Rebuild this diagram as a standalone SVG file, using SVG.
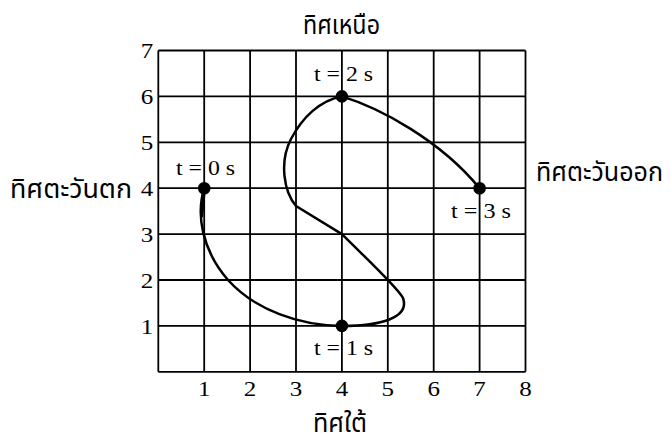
<svg xmlns="http://www.w3.org/2000/svg" width="671" height="437" viewBox="0 0 671 437">
<style>
.grid line{stroke:#000;stroke-width:1.8}
.num{font-family:'Liberation Serif','Times New Roman',Times,serif;font-size:21.5px;fill:#000;text-anchor:middle}
.tl{font-family:'Liberation Serif','Times New Roman',Times,serif;font-size:21px;fill:#000}
.th{font-family:'Liberation Serif','Noto Sans Thai',serif;font-size:27px;fill:#000}
.dot{fill:#000}
.curve{fill:none;stroke:#000;stroke-width:2.5;stroke-linejoin:round}
</style>
<rect width="671" height="437" fill="#fff"/>
<g id="grid" class="grid">
<line x1="158.3" y1="50.5" x2="158.3" y2="371.8"/>
<line x1="204.2" y1="50.5" x2="204.2" y2="371.8"/>
<line x1="250.1" y1="50.5" x2="250.1" y2="371.8"/>
<line x1="296" y1="50.5" x2="296" y2="371.8"/>
<line x1="341.9" y1="50.5" x2="341.9" y2="371.8"/>
<line x1="387.8" y1="50.5" x2="387.8" y2="371.8"/>
<line x1="433.7" y1="50.5" x2="433.7" y2="371.8"/>
<line x1="479.6" y1="50.5" x2="479.6" y2="371.8"/>
<line x1="525.5" y1="50.5" x2="525.5" y2="371.8"/>
<line x1="158.3" y1="371.8" x2="525.5" y2="371.8"/>
<line x1="158.3" y1="325.9" x2="525.5" y2="325.9"/>
<line x1="158.3" y1="280" x2="525.5" y2="280"/>
<line x1="158.3" y1="234.1" x2="525.5" y2="234.1"/>
<line x1="158.3" y1="188.2" x2="525.5" y2="188.2"/>
<line x1="158.3" y1="142.3" x2="525.5" y2="142.3"/>
<line x1="158.3" y1="96.4" x2="525.5" y2="96.4"/>
<line x1="158.3" y1="50.5" x2="525.5" y2="50.5"/>
</g>
<g id="axis-labels">
<text class="num" x="147" y="57.5" textLength="12.5" lengthAdjust="spacingAndGlyphs">7</text>
<text class="num" x="147" y="103.5" textLength="12.5" lengthAdjust="spacingAndGlyphs">6</text>
<text class="num" x="147" y="149.5" textLength="12.5" lengthAdjust="spacingAndGlyphs">5</text>
<text class="num" x="147" y="195.5" textLength="12.5" lengthAdjust="spacingAndGlyphs">4</text>
<text class="num" x="147" y="241.5" textLength="12.5" lengthAdjust="spacingAndGlyphs">3</text>
<text class="num" x="147" y="287.5" textLength="12.5" lengthAdjust="spacingAndGlyphs">2</text>
<text class="num" x="147" y="333.5" textLength="12.5" lengthAdjust="spacingAndGlyphs">1</text>
<text class="num" x="204.2" y="396" textLength="12.5" lengthAdjust="spacingAndGlyphs">1</text>
<text class="num" x="250.1" y="396" textLength="12.5" lengthAdjust="spacingAndGlyphs">2</text>
<text class="num" x="296" y="396" textLength="12.5" lengthAdjust="spacingAndGlyphs">3</text>
<text class="num" x="341.9" y="396" textLength="12.5" lengthAdjust="spacingAndGlyphs">4</text>
<text class="num" x="387.8" y="396" textLength="12.5" lengthAdjust="spacingAndGlyphs">5</text>
<text class="num" x="433.7" y="396" textLength="12.5" lengthAdjust="spacingAndGlyphs">6</text>
<text class="num" x="479.6" y="396" textLength="12.5" lengthAdjust="spacingAndGlyphs">7</text>
<text class="num" x="525.5" y="396" textLength="12.5" lengthAdjust="spacingAndGlyphs">8</text>
</g>
<g id="directions">
<text class="th" x="303" y="34" textLength="77" lengthAdjust="spacingAndGlyphs">ทิศเหนือ</text>
<text class="th" x="313" y="431.5" textLength="54" lengthAdjust="spacingAndGlyphs">ทิศใต้</text>
<text class="th" x="10" y="198" textLength="122" lengthAdjust="spacingAndGlyphs">ทิศตะวันตก</text>
<text class="th" x="536" y="181" font-size="24" textLength="127" lengthAdjust="spacingAndGlyphs">ทิศตะวันออก</text>
</g>
<g id="connectors">
<path class="curve" d="M204.2,188.2 C196,215 202,250 228,280 C255,310 300,325.9 341.9,325.9 C380,326 410,318 403,298 C398,288 370,262 341.9,234.1 L296,206 C284,192 279,162 291,139 C302,118 320,100 341.9,96.4 C380,108 440,140 479.6,188.2 M204.6,190 C203.5,200 202.8,208 201.8,217"/>
</g>
<g id="t0">
<circle class="dot" cx="204.2" cy="188.2" r="6.3"/>
<text class="tl" x="176" y="175" textLength="59" lengthAdjust="spacingAndGlyphs">t = 0 s</text>
</g>
<g id="t1">
<circle class="dot" cx="341.9" cy="325.9" r="6.3"/>
<text class="tl" x="314" y="355" textLength="59" lengthAdjust="spacingAndGlyphs">t = 1 s</text>
</g>
<g id="t2">
<circle class="dot" cx="341.9" cy="96.4" r="6.3"/>
<text class="tl" x="314" y="81" textLength="59" lengthAdjust="spacingAndGlyphs">t = 2 s</text>
</g>
<g id="t3">
<circle class="dot" cx="479.6" cy="188.2" r="6.3"/>
<text class="tl" x="451" y="218" textLength="60" lengthAdjust="spacingAndGlyphs">t = 3 s</text>
</g>
</svg>
